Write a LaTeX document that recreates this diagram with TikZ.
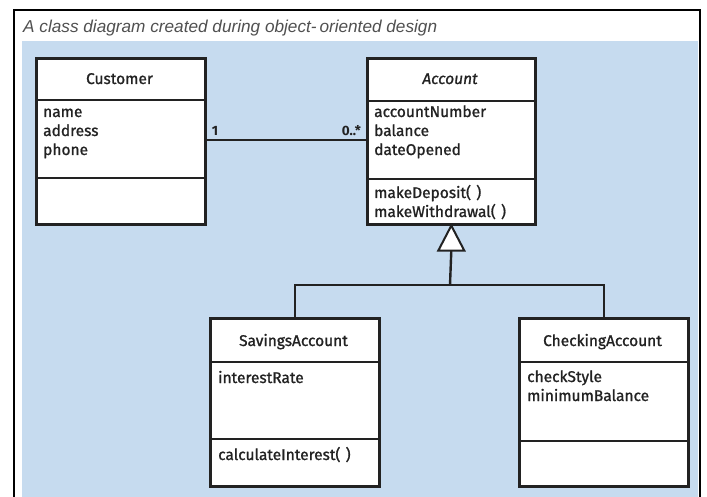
\documentclass[tikz,border=0pt]{standalone}
\usepackage{fontspec}
\setmainfont{Fira Sans}[UprightFeatures={FakeBold=1.1}, ItalicFeatures={FakeBold=1.1}]
\newfontfamily\titlefont{Liberation Sans}
\usetikzlibrary{arrows.meta,calc}
\definecolor{panelblue}{HTML}{C6DBEF}
\definecolor{boxline}{HTML}{222222}
\definecolor{titlegray}{HTML}{505050}
\tikzset{
  cls/.style={draw=boxline, line width=2.6pt, fill=white, anchor=north west, inner sep=0pt},
  sep/.style={draw=boxline, line width=2.2pt},
  conn/.style={draw=boxline, line width=2.4pt},
  txt/.style={anchor=base west, inner sep=0pt, align=left, font=\fontsize{15.5}{19}\selectfont, text=boxline},
  hdr/.style={anchor=base, inner sep=0pt, font=\fontsize{15.5}{19}\selectfont, text=boxline},
  mult/.style={anchor=base, inner sep=0pt, font=\bfseries\fontsize{13.5}{15}\selectfont, text=boxline}
}
\begin{document}
\begin{tikzpicture}[x=1pt,y=-1pt]
\useasboundingbox (0,0) rectangle (707,497);
% panel
\fill[white] (0,0) rectangle (707,497);
\fill[panelblue] (22,41) rectangle (698,497);
\draw[black, line width=2.4pt] (14,497) -- (14,10) -- (700,10) -- (700,497);
\node[anchor=base west, inner sep=0pt, text=titlegray, font=\titlefont\itshape\fontsize{17.2}{20}\selectfont] (title) at (23,33) {A class diagram created during object-\,oriented design};
% Customer
\node[cls, minimum width=169pt, minimum height=166pt] (cust) at (35,57) {};
\draw[sep] (35,100) -- (204,100);
\draw[sep] (35,178) -- (204,178);
\node[hdr] (custname) at (119.5,84) {Customer};
\node[txt] (custattr) at (43,155) {name\\address\\phone};
% Account
\node[cls, minimum width=168pt, minimum height=166pt] (acc) at (366,57) {};
\draw[sep] (366,101) -- (534,101);
\draw[sep] (366,179) -- (534,179);
\node[hdr, font=\itshape\fontsize{15.5}{19}\selectfont] (accname) at (450,84) {Account};
\node[txt] (accattr) at (374,155) {accountNumber\\balance\\dateOpened};
\node[txt] (accops) at (374,217) {makeDeposit(\,\,)\\makeWithdrawal(\,\,)};
% Savings
\node[cls, minimum width=169pt, minimum height=168pt] (sav) at (209,317) {};
\draw[sep] (209,362) -- (378,362);
\draw[sep] (209,439) -- (378,439);
\node[hdr] (savname) at (293.5,346) {SavingsAccount};
\node[txt] (savattr) at (218,383) {interestRate};
\node[txt] (savops) at (218,460) {calculateInterest(\,\,)};
% Checking
\node[cls, minimum width=169pt, minimum height=168pt] (chk) at (518,317) {};
\draw[sep] (518,362) -- (687,362);
\draw[sep] (518,441) -- (687,441);
\node[hdr] (chkname) at (602.5,346) {CheckingAccount};
\node[txt] (chkattr) at (527,401) {checkStyle\\minimumBalance};
% association
\draw[conn] (cust.east |- 0,140) -- (acc.west |- 0,140);
\node[mult] (m1) at (215,136) {1};
\node[mult, anchor=base east] (m2) at (361,136) {0..*};
% generalization
\coordinate (j) at (450,285);
\coordinate (tribase) at ($(acc.south)+(0,25)$);
\draw[conn] (sav.north) |- (j) -| (chk.north);
\draw[conn] (j) -- (tribase);
\draw[draw=boxline, line width=2pt, fill=white, line join=miter] (acc.south) -- ($(tribase)+(-13,0)$) -- ($(tribase)+(13,0)$) -- cycle;
\end{tikzpicture}
\end{document}
